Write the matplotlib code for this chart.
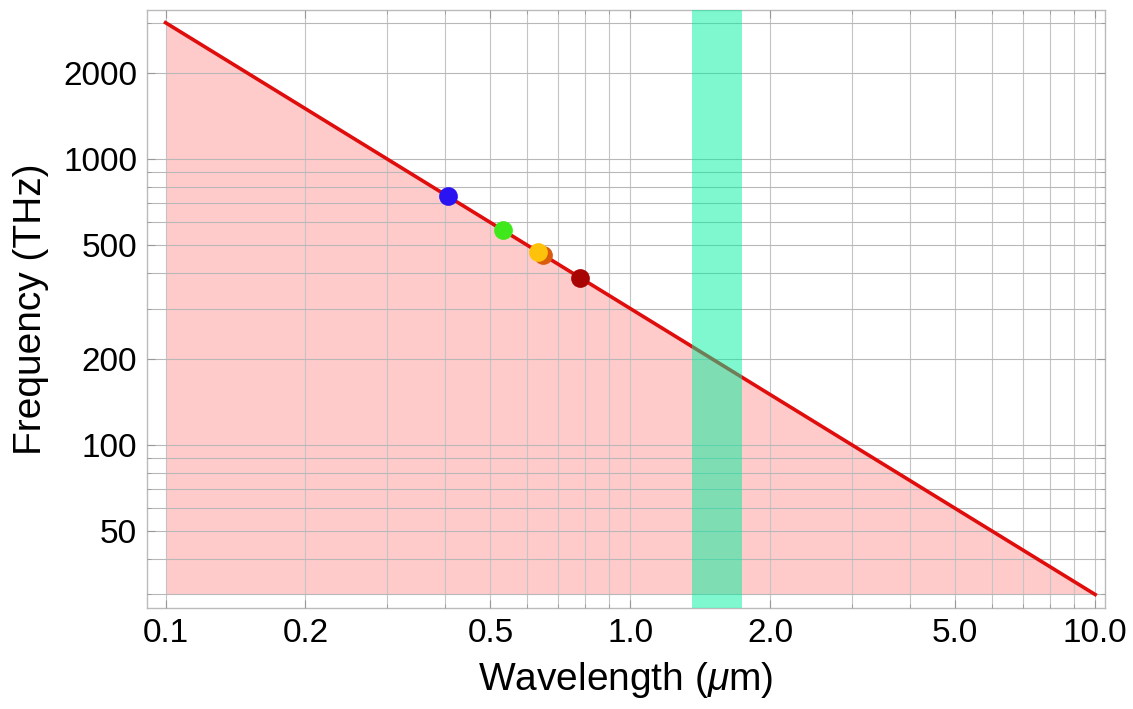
import numpy as np
import matplotlib.pyplot as plt
from matplotlib.ticker import FixedLocator, FixedFormatter, NullFormatter

plt.rcParams['font.family'] = ['Liberation Sans', 'DejaVu Sans']
plt.rcParams['mathtext.fontset'] = 'custom'
plt.rcParams['mathtext.rm'] = 'Liberation Sans'
plt.rcParams['mathtext.it'] = 'Liberation Sans:italic'

# speed of light in um*THz
c = 299.792458

# wavelength span of the curve (um)
wl_line = [0.1, 10.0]
# laser wavelengths (um) and their colours
laser_wl = [0.405, 0.532, 0.650, 0.633, 0.780]
laser_colors = ['#2b14f2', '#3fe81a', '#dc5a0c', '#ffc20a', '#a80404']
# telecom band (um)
band = [1.36, 1.74]

x_ticks = [0.1, 0.2, 0.5, 1.0, 2.0, 5.0, 10.0]
x_labels = ['0.1', '0.2', '0.5', '1.0', '2.0', '5.0', '10.0']
x_grid = [0.1, 0.2, 0.3, 0.4, 0.5, 0.6, 0.7, 0.8, 0.9,
          1, 2, 3, 4, 5, 6, 7, 8, 9, 10]
y_ticks = [50, 100, 200, 500, 1000, 2000]
y_labels = ['50', '100', '200', '500', '1000', '2000']
y_grid = [30, 40, 50, 60, 70, 80, 90, 100, 200, 300, 400, 500,
          600, 700, 800, 900, 1000, 2000, 3000]

wl = np.geomspace(wl_line[0], wl_line[1], 200)
freq = c / wl

fig = plt.figure(figsize=(11.33, 7.09), dpi=100)
ax = fig.add_axes([0.1297, 0.1425, 0.8456, 0.8434])
ax.set_xscale('log')
ax.set_yscale('log')

ax.fill_between(wl, freq.min(), freq, color='#ffcaca', lw=0, zorder=1)
ax.plot(wl, freq, color='#e00d0d', lw=2.6, zorder=3)
for w, col in zip(laser_wl, laser_colors):
    ax.plot([w], [c / w], 'o', color=col, ms=13.5, mec='none', zorder=4)
ax.axvspan(band[0], band[1], color='#00f0a0', alpha=0.5, lw=0, zorder=5)

ax.set_xlim(0.0912, 10.5)
ax.set_ylim(26.9, 3320)

ax.xaxis.set_major_locator(FixedLocator(x_ticks))
ax.xaxis.set_major_formatter(FixedFormatter(x_labels))
ax.xaxis.set_minor_locator(FixedLocator(x_grid))
ax.xaxis.set_minor_formatter(NullFormatter())
ax.yaxis.set_major_locator(FixedLocator(y_ticks))
ax.yaxis.set_major_formatter(FixedFormatter(y_labels))
ax.yaxis.set_minor_locator(FixedLocator(y_grid))
ax.yaxis.set_minor_formatter(NullFormatter())

ax.grid(True, which='both', axis='y', color='#b8b8b8', lw=0.8, zorder=2)
ax.grid(True, which='both', axis='x', color='#c4c4c4', lw=0.8, zorder=2)
ax.set_axisbelow(False)
for a in ['x', 'y']:
    ax.tick_params(axis=a, which='major', direction='in', length=6, width=0.8,
                   color='#999999', labelsize=24, top=True, right=True, pad=7)
    ax.tick_params(axis=a, which='minor', direction='in', length=3, width=0.6,
                   color='#999999', top=True, right=True)
for s in ax.spines.values():
    s.set_color('#bbbbbb')
    s.set_linewidth(1.0)

ax.set_xlabel('Wavelength ($\\mu$m)', fontsize=28, labelpad=8)
ax.set_ylabel('Frequency (THz)', fontsize=28, labelpad=10)

fig.savefig('out.png', dpi=100)
